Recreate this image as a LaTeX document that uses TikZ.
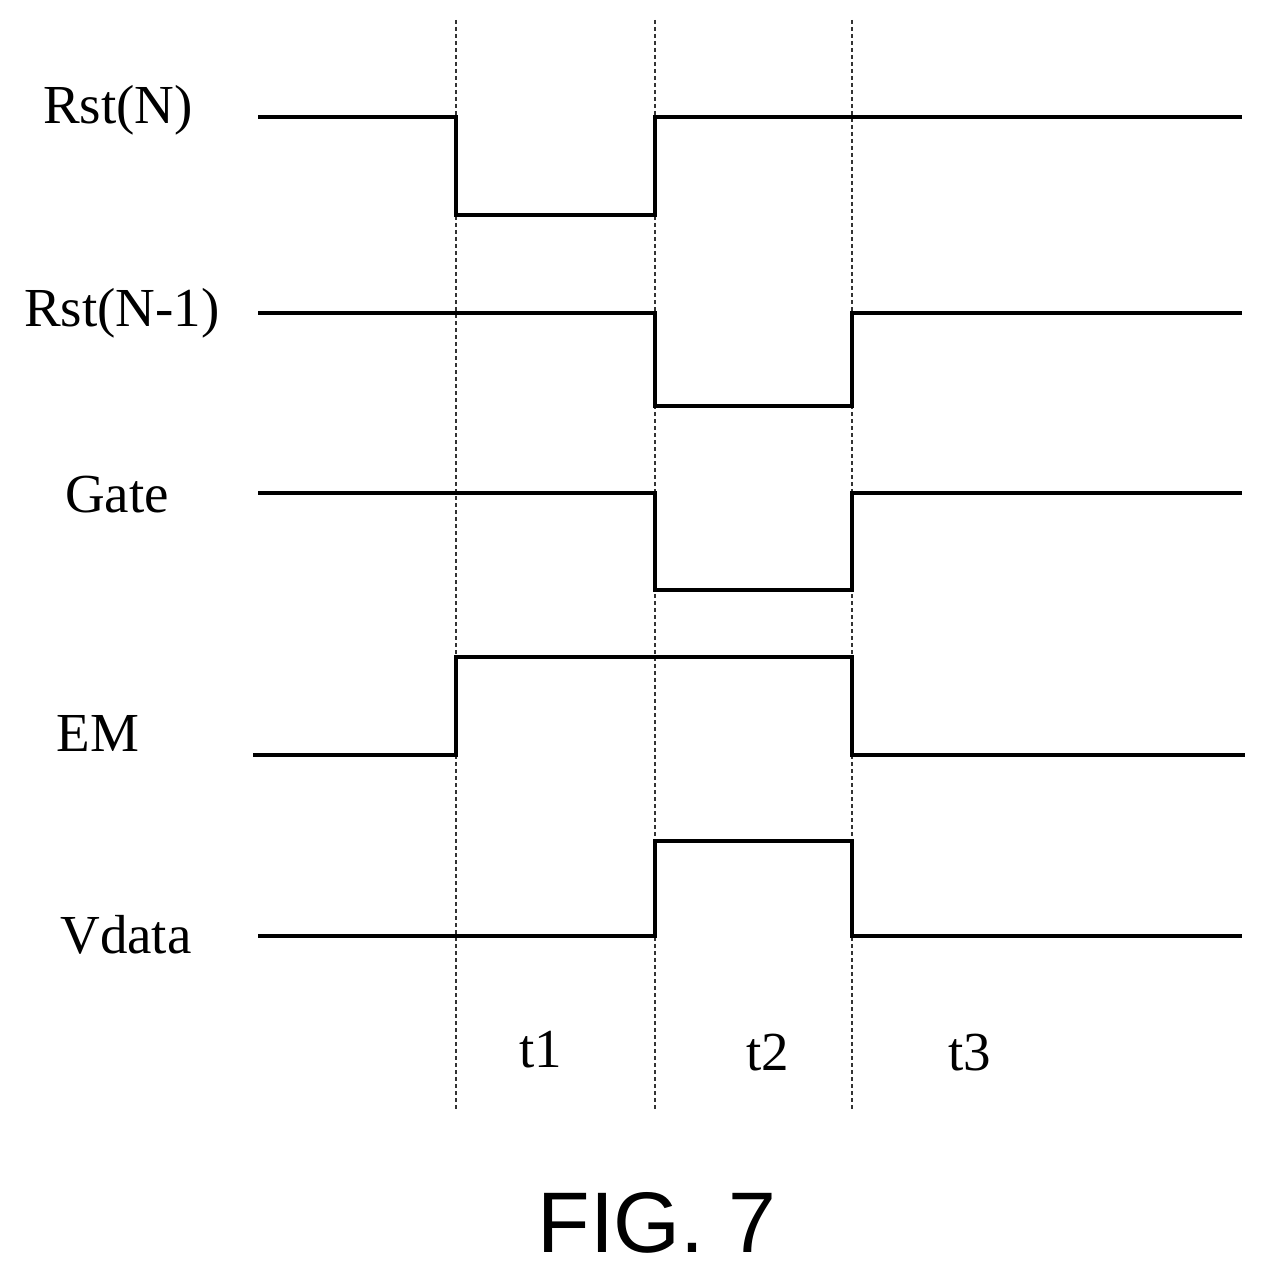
\documentclass[tikz,border=0pt]{standalone}
\usepackage{fontspec}
\setmainfont{Liberation Serif}
\newfontfamily\figfont{Liberation Sans}
\begin{document}
\begin{tikzpicture}[x=1pt,y=-1pt,
  sig/.style={line width=4pt,line join=miter},
  grid/.style={line width=1.3pt,dash pattern=on 4pt off 3pt,black!80},
  lab/.style={font=\fontsize{55}{60}\selectfont,inner sep=0pt}]
\useasboundingbox (0,0) rectangle (1271,1273);
\foreach \x/\n in {456/a,655/b,852/c}{
  \coordinate (\n top) at (\x,20); \coordinate (\n bot) at (\x,1110);
  \draw[grid] (\n top) -- (\n bot);}
\draw[sig] (258,117) -- (456,117) -- (456,215) -- (655,215) -- (655,117) -- (1242,117);
\draw[sig] (258,313) -- (655,313) -- (655,406) -- (852,406) -- (852,313) -- (1242,313);
\draw[sig] (258,493) -- (655,493) -- (655,590) -- (852,590) -- (852,493) -- (1242,493);
\draw[sig] (253,755) -- (456,755) -- (456,657) -- (852,657) -- (852,755) -- (1245,755);
\draw[sig] (258,936) -- (655,936) -- (655,841) -- (852,841) -- (852,936) -- (1242,936);
\node[lab] (l1) at (118,110) {Rst(N)};
\node[lab] (l2) at (122,313) {Rst(N-1)};
\node[lab] (l3) at (117,495) {Gate};
\node[lab] (l4) at (98,733) {EM};
\node[lab] (l5) at (126,935) {Vdata};
\node[lab] (t1) at (541,1050) {t1};
\node[lab] (t2) at (768,1053) {t2};
\node[lab] (t3) at (970,1053) {t3};
\node[inner sep=0pt,font=\figfont\fontsize{86}{90}\selectfont] (fig) at (657,1223) {FIG. 7};
\end{tikzpicture}
\end{document}
